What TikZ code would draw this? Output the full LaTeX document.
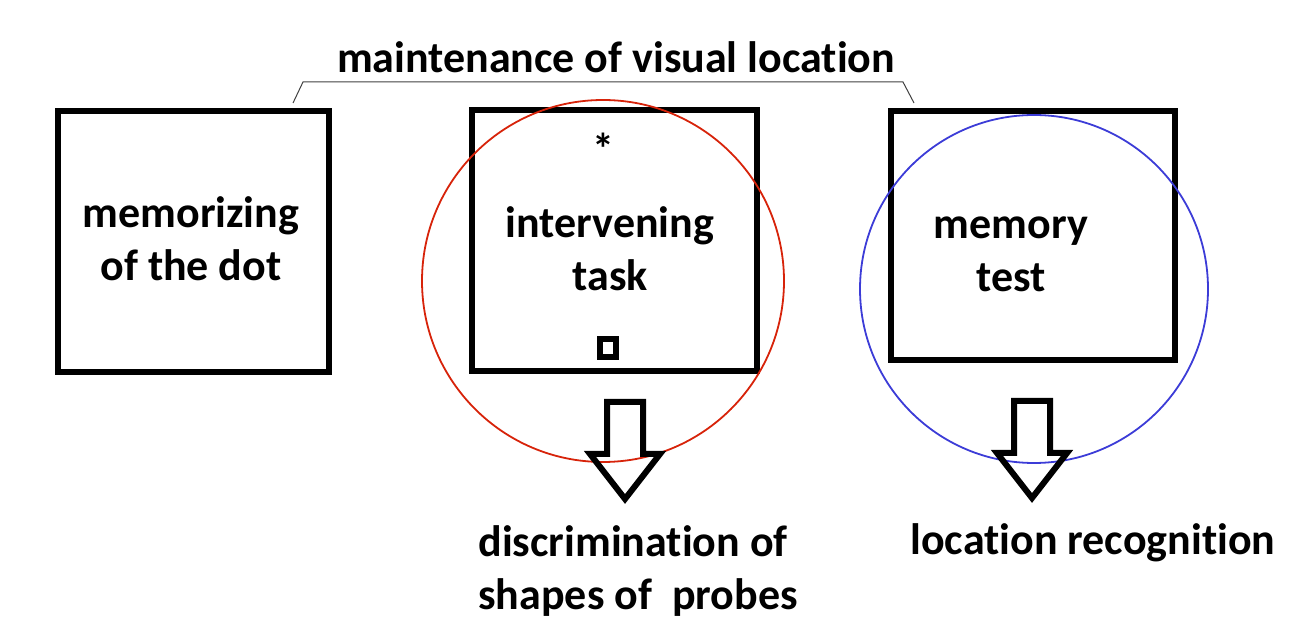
\documentclass[tikz,border=0pt]{standalone}
\usepackage{fontspec}
\setmainfont{Carlito}[Ligatures=NoCommon]
\definecolor{circred}{RGB}{215,35,10}
\definecolor{circblue}{RGB}{60,60,215}
\tikzset{
  frame/.style={draw,line width=3pt,inner sep=0pt,outer sep=0pt},
  lbl/.style={font=\fontsize{22}{26.5}\selectfont\bfseries,align=center,inner sep=0pt},
  arrowline/.style={line width=3pt,line join=miter},
}

\begin{document}
\begin{tikzpicture}[x=0.5pt,y=-0.5pt]
\useasboundingbox (0,0) rectangle (1311,619);
% the three screens
\node[frame,minimum width=135.5pt,minimum height=130.5pt] (memo) at (193.5,241.5) {};
\node[frame,minimum width=142.5pt,minimum height=130.5pt] (inter) at (614.5,240.5) {};
\node[frame,minimum width=142pt,minimum height=124.5pt] (test) at (1033,235.5) {};
\node[lbl,anchor=base] (memotxt) at (191,281) {memorizing\\of the dot};
\node[lbl,anchor=base] (intertxt) at (610,291) {intervening\\task};
\node[lbl,anchor=base] (testtxt) at (1011,292) {memory\\test};
\node[lbl,anchor=base] (star) at (603,165) {*};
\node[frame,minimum width=8pt,minimum height=9pt] (probe) at (607.5,348.5) {};
% bracket over the delay
\coordinate (brl) at (293,103);
\coordinate (brr) at (914,103);
\draw[line width=0.5pt,black!75] (brl) -- (303,82) -- (903,82) -- (brr);
\node[lbl,anchor=base] (maint) at (616,73) {maintenance of visual location};
% circles
\draw[circred,line width=0.9pt] (603,281) circle (181);
\draw[circblue,line width=0.9pt] (1034,289) circle (174);
% block arrows
\foreach \x/\t in {625/402,1032/401}{
 \draw[arrowline] (\x-18,\t) -- (\x+18,\t) -- (\x+18,\t+52) -- (\x+35,\t+52)
   -- (\x,\t+97) -- (\x-35,\t+52) -- (\x-18,\t+52) -- cycle;}
\node[lbl,align=left,anchor=base west] (discr) at (478,609) {discrimination of\\shapes of\ \ probes};
\node[lbl,anchor=base west] (recog) at (910,554) {location recognition};
\end{tikzpicture}
\end{document}
